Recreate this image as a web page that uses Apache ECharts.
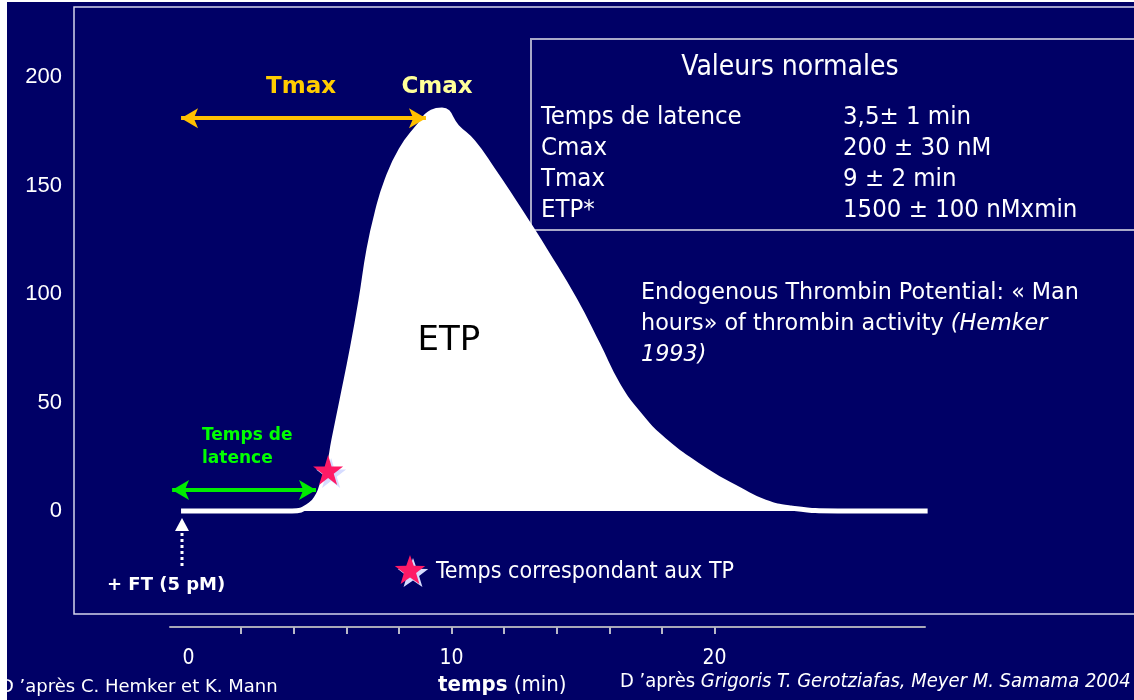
<!DOCTYPE html>
<html>
<head>
<meta charset="utf-8">
<title>ETP - thrombinographie</title>
<script src="https://cdn.jsdelivr.net/npm/echarts@6/dist/echarts.min.js"></script>
<style>
  html, body { margin: 0; padding: 0; background: #000066; }
  #main { width: 1134px; height: 700px; }
</style>
</head>
<body>
<div id="main"></div>
<script>
// courbe de génération de thrombine : temps en min, thrombine en nM
const timeMin = [-0.28, 3.94, 4.62, 4.93, 5.08, 5.31, 5.53, 5.84, 6.22, 6.56, 6.86, 7.17, 7.55, 8.08, 8.73,
  9.26, 9.64, 10.21, 10.82, 11.58, 12.34, 13.00, 13.55, 14.69, 15.57, 16.33, 17.16, 18.08, 19.64,
  20.97, 21.92, 22.90, 24.69, 28.10];
const thrombinNM = [0, 0, 2.8, 7.4, 12.0, 18.9, 32.7, 51.2, 74.2, 97.2, 120.3, 137.3, 152.5, 166.4, 177.0,
  183.9, 184.8, 177.0, 170.0, 157.1, 143.3, 130.9, 120.3, 97.2, 76.5, 58.1, 44.2, 32.7, 18.9,
  9.7, 4.1, 1.4, 0, 0];

// point "temps correspondant aux TP"
const tpTime = [5.31];
const tpThrombin = [18.9];

// flèches : Tmax, temps de latence
const tmaxArrow = [[-0.28, 181], [9.03, 181]];
const latenceArrow = [[-0.62, 9.7], [4.85, 9.7]];

// axes
const yTicks = [0, 50, 100, 150, 200];
const xTickLabels = [0, 10, 20];
const xMinorTicks = [2, 4, 6, 8, 10, 12, 14, 16, 18, 20];

// tableau "Valeurs normales"
const normLabels = ["Temps de latence", "Cmax", "Tmax", "ETP*"];
const normValues = ["3,5\u00b1 1 min", "200 \u00b1 30 nM", "9 \u00b1 2 min", "1500 \u00b1 100 nMxmin"];

const SANS = "'Liberation Sans', Arial, sans-serif";
const VER = "'DejaVu Sans', Verdana, sans-serif";
const TAH = "'DejaVu Sans Condensed', 'DejaVu Sans', Tahoma, sans-serif";
const NARROW = "'Liberation Sans Narrow', 'DejaVu Sans Condensed', sans-serif";

const STAR = "path://M50,0 L61,35 L98,35 L68,57 L79,91 L50,70 L21,91 L32,57 L2,35 L39,35 Z";

function starPoints(cx, cy, r) {
  const pts = [];
  for (let i = 0; i < 10; i++) {
    const a = -Math.PI / 2 + i * Math.PI / 5;
    const rr = i % 2 === 0 ? r : r * 0.4;
    pts.push([cx + rr * Math.cos(a), cy + rr * Math.sin(a)]);
  }
  return pts;
}

function txt(x, y, text, opts) {
  return {
    type: "text", x: x, y: y, silent: true, z: 50,
    style: Object.assign({
      text: text, fill: "#ffffff", fontFamily: TAH, fontSize: 25.5,
      textAlign: "left", textVerticalAlign: "middle"
    }, opts || {})
  };
}

function arrowLine(pts, color, width, size) {
  return [
    { coord: pts[0], symbol: "arrow", symbolSize: size, lineStyle: { color: color, width: width, type: "solid" }, itemStyle: { color: color } },
    { coord: pts[1], symbol: "arrow", symbolSize: size }
  ];
}

const chart = echarts.init(document.getElementById("main"));

const graphic = [
  { type: "rect", shape: { x: 0, y: 0, width: 7, height: 700 }, style: { fill: "#ffffff" }, silent: true },
  { type: "rect", shape: { x: 0, y: 0, width: 1134, height: 2 }, style: { fill: "#ffffff" }, silent: true },
  { type: "rect", shape: { x: 74, y: 7, width: 1100, height: 607 }, style: { fill: "none", stroke: "#d4d4ec", lineWidth: 1.5 }, silent: true },
  { type: "rect", shape: { x: 531, y: 39, width: 640, height: 191 }, style: { fill: "none", stroke: "#a8a8c8", lineWidth: 2 }, silent: true },
  txt(790, 68, "Valeurs normales", { fontSize: 28, textAlign: "center" }),
  txt(301, 87, "Tmax", { fontFamily: VER, fontWeight: "bold", fontSize: 23, fill: "#ffcc00", textAlign: "center" }),
  txt(437, 87, "Cmax", { fontFamily: VER, fontWeight: "bold", fontSize: 23, fill: "#ffff99", textAlign: "center" }),
  txt(202, 447, "Temps de\nlatence", { fontFamily: VER, fontWeight: "bold", fontSize: 17, fill: "#00ff00", lineHeight: 23 }),
  txt(107, 585, "+ FT (5 pM)", { fontFamily: VER, fontWeight: "bold", fontSize: 18 }),
  txt(449, 341, "ETP", { fontFamily: VER, fontSize: 34, fill: "#000000", textAlign: "center" }),
  txt(641, 324, "Endogenous Thrombin Potential: \u00ab Man\nhours\u00bb of thrombin activity {i|(Hemker}\n{i|1993)}", {
    fontFamily: VER, fontSize: 22.3, lineHeight: 31,
    rich: { i: { fontFamily: VER, fontSize: 22.3, fontStyle: "italic", fill: "#ffffff", lineHeight: 31 } }
  }),
  // flèche pointillée de l'ajout du FT
  { type: "line", silent: true, z: 50, shape: { x1: 182, y1: 566, x2: 182, y2: 531 },
    style: { stroke: "#ffffff", lineWidth: 3, lineDash: [3, 3] } },
  { type: "polygon", silent: true, z: 50, shape: { points: [[182, 518], [175, 531], [189, 531]] },
    style: { fill: "#ffffff" } },
  {
    type: "polygon", silent: true, z: 50,
    shape: { points: starPoints(410, 571, 16) },
    style: { fill: "#ff1a66", shadowColor: "#d6dcff", shadowOffsetX: 3, shadowOffsetY: 3, shadowBlur: 0 }
  },
  txt(436, 572, "Temps correspondant aux TP", { fontSize: 23 }),
  txt(0, 687, "D \u2019apr\u00e8s C. Hemker et K. Mann", { fontFamily: VER, fontSize: 18 }),
  txt(438, 685, "{b|temps} (min)", {
    fontFamily: NARROW, fontSize: 22,
    rich: { b: { fontFamily: NARROW, fontSize: 22, fontWeight: "bold", fill: "#ffffff" } }
  }),
  txt(620, 682, "D \u2019apr\u00e8s {i|Grigoris T. Gerotziafas, Meyer M. Samama 2004}", {
    fontFamily: NARROW, fontSize: 20,
    rich: { i: { fontFamily: NARROW, fontSize: 20, fontStyle: "italic", fill: "#ffffff" } }
  })
];

normLabels.forEach(function (label, i) {
  graphic.push(txt(541, 117 + i * 31, label));
  graphic.push(txt(843, 117 + i * 31, normValues[i]));
});

const option = {
  backgroundColor: "#000066",
  animation: false,
  grid: { left: 170, right: 209, top: 77, bottom: 189 },
  xAxis: {
    type: "value",
    min: -0.7,
    max: 28,
    offset: 116,
    splitLine: { show: false },
    axisLine: { show: true, onZero: false, lineStyle: { color: "#a8a8b8", width: 2 } },
    axisTick: { show: true, customValues: xMinorTicks, length: 7, lineStyle: { color: "#b8b8c8", width: 2 } },
    axisLabel: { customValues: xTickLabels, color: "#ffffff", fontFamily: NARROW, fontSize: 21, margin: 21 }
  },
  yAxis: {
    type: "value",
    min: 0,
    max: 200,
    interval: 50,
    splitLine: { show: false },
    axisLine: { show: false },
    axisTick: { show: false },
    axisLabel: { color: "#ffffff", fontFamily: SANS, fontSize: 22, margin: 108 }
  },
  series: [
    {
      type: "line",
      name: "Thrombine",
      data: timeMin.map(function (t, i) { return [t, thrombinNM[i]]; }),
      smooth: 0.5,
      showSymbol: false,
      clip: false,
      lineStyle: { color: "#ffffff", width: 5 },
      areaStyle: { color: "#ffffff", opacity: 1 },
      emphasis: { disabled: true },
      z: 3,
      markLine: {
        silent: true,
        animation: false,
        label: { show: false },
        data: [
          arrowLine(tmaxArrow, "#ffc000", 4, [15, 17]),
          arrowLine(latenceArrow, "#00ee00", 4, [15, 17])
        ]
      }
    },
    {
      type: "scatter",
      name: "TP",
      data: tpTime.map(function (t, i) { return [t, tpThrombin[i]]; }),
      symbol: STAR,
      symbolSize: 30,
      clip: false,
      itemStyle: { color: "#ff1a66", opacity: 1, shadowColor: "#d6dcff", shadowOffsetX: 3, shadowOffsetY: 3, shadowBlur: 0 },
      emphasis: { disabled: true },
      z: 10
    }
  ],
  graphic: graphic
};

chart.setOption(option);
</script>
</body>
</html>
